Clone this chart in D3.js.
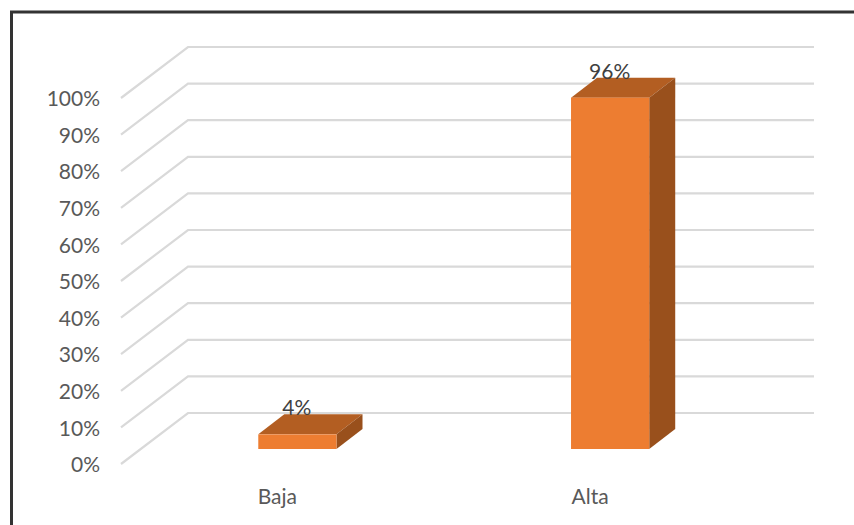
<!DOCTYPE html>
<html lang="en">

<head>
    <meta charset="UTF-8">
    <title>Baja / Alta</title>
    <script src="https://d3js.org/d3.v7.min.js"></script>
    <style>
        html, body {
            margin: 0;
            padding: 0;
            background-color: white;
        }

        svg {
            display: block;
        }

        text {
            font-family: Lato, "Open Sans", sans-serif;
        }
    </style>
</head>

<body>

    <svg width="854" height="525" id="chart"></svg>

    <script>
        const categories = ["Baja", "Alta"];
        const values = [4, 96];
        const valueLabels = ["4%", "96%"];
        const tickValues = [0, 10, 20, 30, 40, 50, 60, 70, 80, 90, 100];

        const svg = d3.select("#chart");

        // front edge of the floor, the back wall is shifted by wallDx / wallDy
        const y = d3.scaleLinear().domain([0, 100]).range([464, 98]);
        const x = d3.scaleBand().domain(categories).range([120.5, 746])
            .paddingInner(0.75).paddingOuter(0.375);
        const wallDx = 67;
        const wallDy = -51;

        // bars stand part way into the floor
        const barDx = 20.5;
        const barDy = -15;
        const depthDx = 26;
        const depthDy = -20;
        const wallWidth = 626;

        // frame
        svg.append("path")
            .attr("d", "M11.5,525V12H854")
            .attr("fill", "none")
            .attr("stroke", "#333333")
            .attr("stroke-width", 3);

        // gridlines
        svg.append("g").selectAll("path")
            .data(tickValues)
            .join("path")
            .attr("d", d => `M121,${y(d)}L${121 + wallDx},${y(d) + wallDy}H${121 + wallDx + wallWidth}`)
            .attr("fill", "none")
            .attr("stroke", "#d9d9d9")
            .attr("stroke-width", 2.2);

        // value axis labels
        const yAxis = svg.append("g")
            .attr("transform", "translate(100,1)")
            .call(d3.axisLeft(y).tickValues(tickValues).tickSize(0).tickPadding(0).tickFormat(d => d + "%"));
        yAxis.select(".domain").remove();
        yAxis.selectAll("text")
            .attr("fill", "#595959")
            .attr("font-size", 21)
            .style("font-family", "Lato, 'Open Sans', sans-serif");

        // bars
        const bars = svg.append("g").selectAll("g")
            .data(categories)
            .join("g")
            .attr("transform", d => `translate(${x(d) + barDx},${barDy})`);

        const bw = x.bandwidth();

        // top face
        bars.append("path")
            .attr("d", (d, i) => `M0,${y(values[i])}l${depthDx},${depthDy}h${bw}l${-depthDx},${-depthDy}z`)
            .attr("fill", "#b35e22");

        // side face
        bars.append("path")
            .attr("d", (d, i) => `M${bw},${y(values[i])}l${depthDx},${depthDy}V${y(0) + depthDy}l${-depthDx},${-depthDy}z`)
            .attr("fill", "#99501c");

        // front face
        bars.append("rect")
            .attr("x", 0)
            .attr("y", (d, i) => y(values[i]))
            .attr("width", bw)
            .attr("height", (d, i) => y(0) - y(values[i]))
            .attr("fill", "#ed7d31");

        // value labels
        bars.append("text")
            .attr("x", bw / 2 - 0.5)
            .attr("y", (d, i) => y(values[i]) - 19)
            .attr("text-anchor", "middle")
            .attr("font-size", 21)
            .attr("fill", "#404040")
            .text((d, i) => valueLabels[i]);

        // category labels
        svg.append("g").selectAll("text")
            .data(categories)
            .join("text")
            .attr("x", d => x(d) + bw / 2 - 20 + barDx)
            .attr("y", 504)
            .attr("text-anchor", "middle")
            .attr("font-size", 21)
            .attr("fill", "#595959")
            .text(d => d);
    </script>

</body>

</html>
